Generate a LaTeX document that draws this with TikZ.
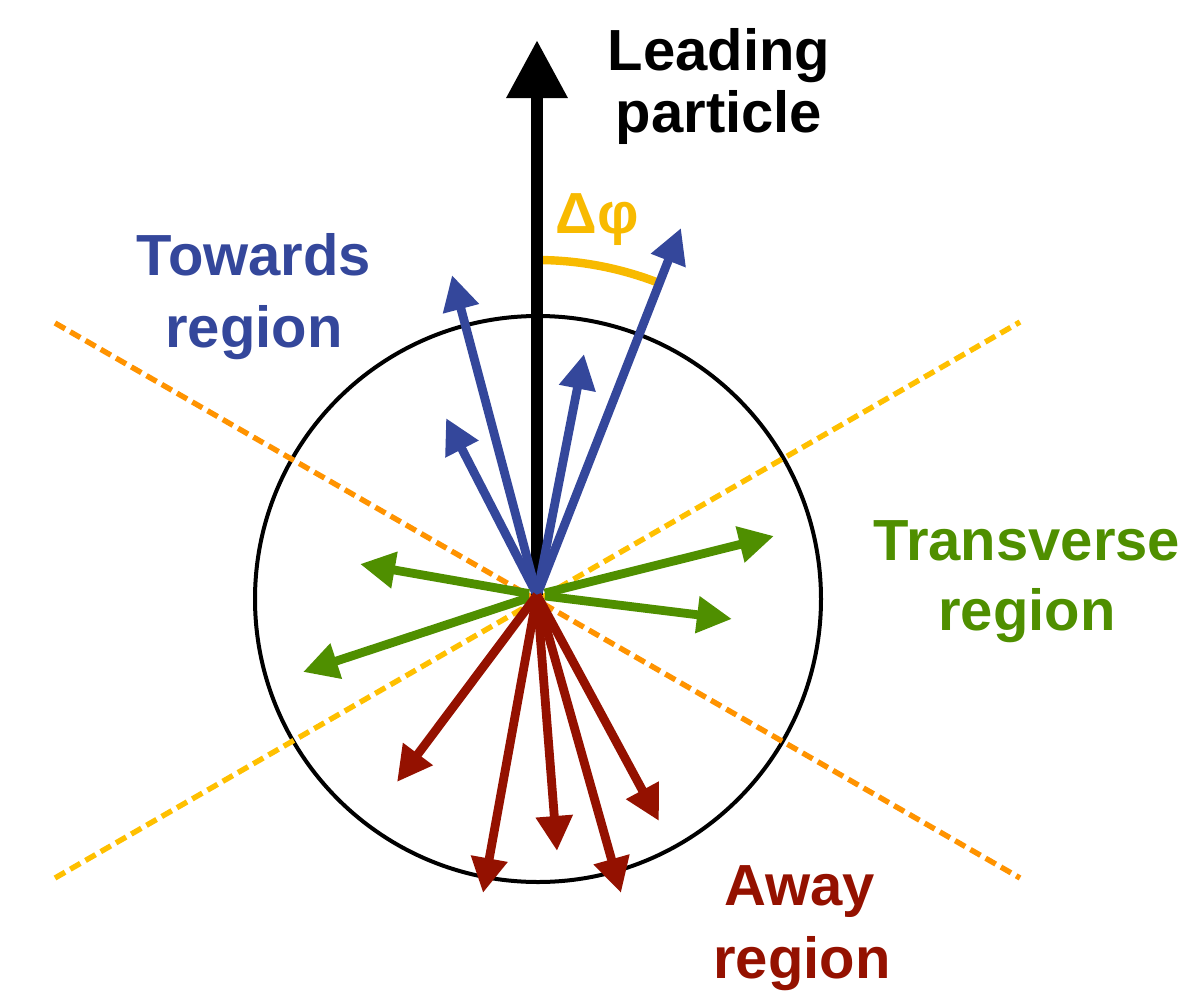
\documentclass[tikz,border=0pt]{standalone}
\usepackage{fontspec}
\setmainfont{Liberation Sans}
\usetikzlibrary{arrows.meta}
\definecolor{towblue}{HTML}{34479B}
\definecolor{trgreen}{HTML}{4F8F00}
\definecolor{awred}{HTML}{941100}
\definecolor{bndorange}{HTML}{FF9300}
\definecolor{bndyellow}{HTML}{FFC000}
\definecolor{dphicol}{HTML}{F8BA00}
\begin{document}
\begin{tikzpicture}[x=0.5pt,y=-0.5pt,
  lbl/.style={font=\fontsize{29}{35}\selectfont\bfseries, anchor=base, inner sep=0pt},
  trk/.style={line width=4.4pt, -{Triangle[length=17.5pt,width=17.5pt]}},
  lead/.style={line width=6.4pt, -{Triangle[length=29pt,width=29pt]}},
  bound/.style={dash pattern=on 5.8pt off 3.0pt, line width=2.7pt}]
\useasboundingbox (0,0) rectangle (1195,991);

% interaction point and phase-space circle
\coordinate (O) at (537,595);
\coordinate (C) at (538,599);
\draw[line width=2pt] (C) circle[radius=141.5pt];

% region boundaries at 60 and 120 degrees
\coordinate (bul) at (55,323);
\coordinate (blr) at (1020,878);
\coordinate (bll) at (55,878);
\coordinate (bur) at (1020,322);
\draw[bound, bndorange] (bul) -- (blr);
\draw[bound, bndyellow] (bll) -- (bur);

% azimuthal opening angle
\draw[line width=4.2pt, dphicol] ([yshift=167.5pt]O) arc[start angle=90, end angle=68.6, radius=167.5pt];
\node[lbl, text=dphicol] (dphi) at (597,233) {Δφ};

% leading particle
\coordinate (L) at (537,40);
\draw[lead] (O) -- (L);

% towards tracks
\coordinate (b1) at (452,275);
\coordinate (b2) at (446,418);
\coordinate (b3) at (584,354);
\coordinate (b4) at (681,228);
\foreach \t in {b1,b2,b3,b4} \draw[trk, towblue] (O) -- (\t);

% transverse tracks
\coordinate (g1) at (360,564);
\coordinate (g2) at (303,672);
\coordinate (g3) at (774,536);
\coordinate (g4) at (732,619);
\foreach \t in {g1,g2,g3,g4} \draw[trk, trgreen, shorten <=4pt] (O) -- (\t);

% away tracks
\coordinate (r1) at (397,782);
\coordinate (r2) at (483,893);
\coordinate (r3) at (557,851);
\coordinate (r4) at (621,893);
\coordinate (r5) at (659,821);
\foreach \t in {r1,r2,r3,r4,r5} \draw[trk, awred] (O) -- (\t);

% labels
\node[lbl] (lead1) at (719,70) {Leading};
\node[lbl] (lead2) at (719,132) {particle};
\node[lbl, text=towblue] (tow1) at (254,275) {Towards};
\node[lbl, text=towblue] (tow2) at (254,347) {region};
\node[lbl, text=trgreen] (tr1) at (1027,560) {Transverse};
\node[lbl, text=trgreen] (tr2) at (1027,630) {region};
\node[lbl, text=awred] (aw1) at (800,905) {Away};
\node[lbl, text=awred] (aw2) at (802,978) {region};
\end{tikzpicture}
\end{document}
